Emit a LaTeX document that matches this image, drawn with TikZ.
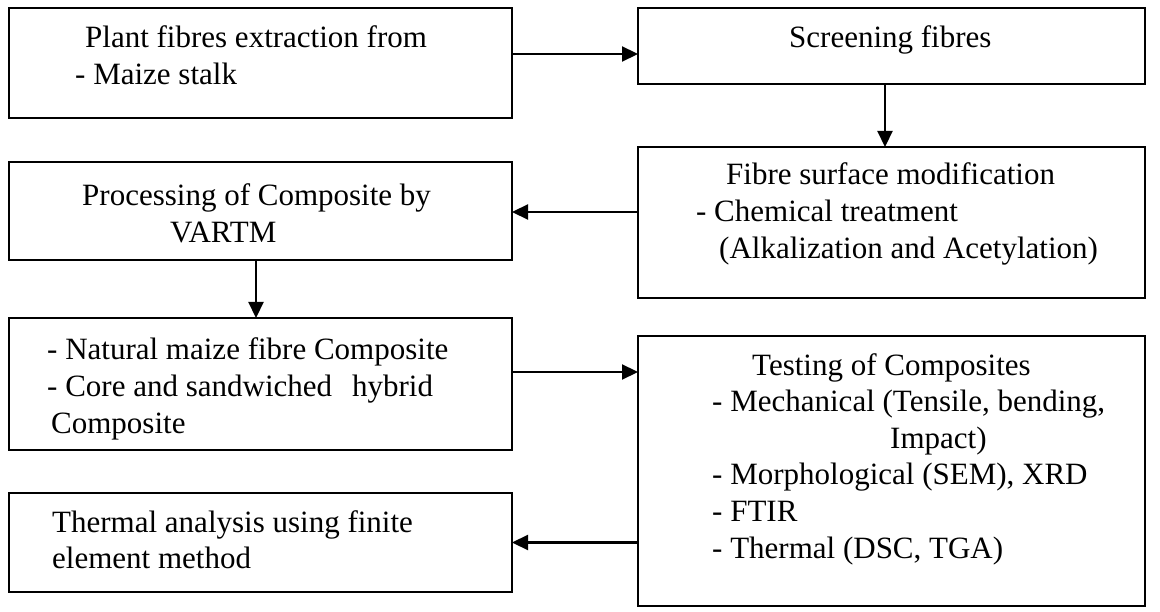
\documentclass[tikz,border=0pt]{standalone}
\usepackage{fontspec}
\setmainfont{Liberation Serif}
\usetikzlibrary{arrows.meta}

\begin{document}
\begin{tikzpicture}[x=1pt, y=-1pt,
  box/.style={draw, line width=2.2pt, inner sep=0pt, outer sep=0pt},
  txt/.style={anchor=base west, align=left, inner sep=0pt, font=\fontsize{31}{36.6}\selectfont},
  flow/.style={-{Triangle[length=16pt, width=15pt]}, line width=2.2pt}]
\useasboundingbox (0, 0) rectangle (1160, 612);
\node[box, minimum width=503pt, minimum height=110pt] (extract) at (260.5, 63) {};
\node[box, minimum width=507pt, minimum height=76pt] (screen) at (891.5, 46) {};
\node[box, minimum width=507pt, minimum height=151pt] (surface) at (891.5, 222.5) {};
\node[box, minimum width=503pt, minimum height=98pt] (process) at (260.5, 211) {};
\node[box, minimum width=503pt, minimum height=132pt] (composite) at (260.5, 384) {};
\node[box, minimum width=507pt, minimum height=270pt] (testing) at (891.5, 471) {};
\node[box, minimum width=503pt, minimum height=99pt] (thermal) at (260.5, 542.5) {};
\node[txt] (extractT) at (75, 84.6) {\hspace{10pt}Plant fibres extraction from\\- Maize stalk};
\node[txt] (screenT) at (789, 48) {Screening fibres};
\node[txt] (surfaceT) at (696, 258.2) {\hspace{30pt}Fibre surface modification\\- Chemical treatment\\\hspace{23pt}(Alkalization and Acetylation)};
\node[txt] (processT) at (82, 242.6) {Processing of Composite by\\\hspace{88pt}VARTM};
\node[txt] (compositeT) at (47, 433.2) {- Natural maize fibre Composite\\- Core and sandwiched\hspace{20pt}hybrid\\\hspace{4pt}Composite};
\node[txt] (testingT) at (712, 558) {\hspace{40pt}Testing of Composites\\- Mechanical (Tensile, bending,\\\hspace{178pt}Impact)\\- Morphological (SEM), XRD\\- FTIR\\- Thermal (DSC, TGA)};
\node[txt] (thermalT) at (52, 568.6) {Thermal analysis using finite\\element method};
\draw[flow] ([yshift=9pt]extract.east) coordinate (ab) -- (ab -| screen.west);
\draw[flow] ([xshift=-6.5pt]screen.south) coordinate (bc) -- (bc |- surface.north);
\draw[flow] ([yshift=10.5pt]surface.west) coordinate (cd) -- (cd -| process.east);
\draw[flow] ([xshift=-4.5pt]process.south) coordinate (de) -- (de |- composite.north);
\draw[flow] ([yshift=12pt]composite.east) coordinate (ef) -- (ef -| testing.west);
\draw[flow] (testing.west |- thermal.east) -- (thermal.east);
\end{tikzpicture}
\end{document}
